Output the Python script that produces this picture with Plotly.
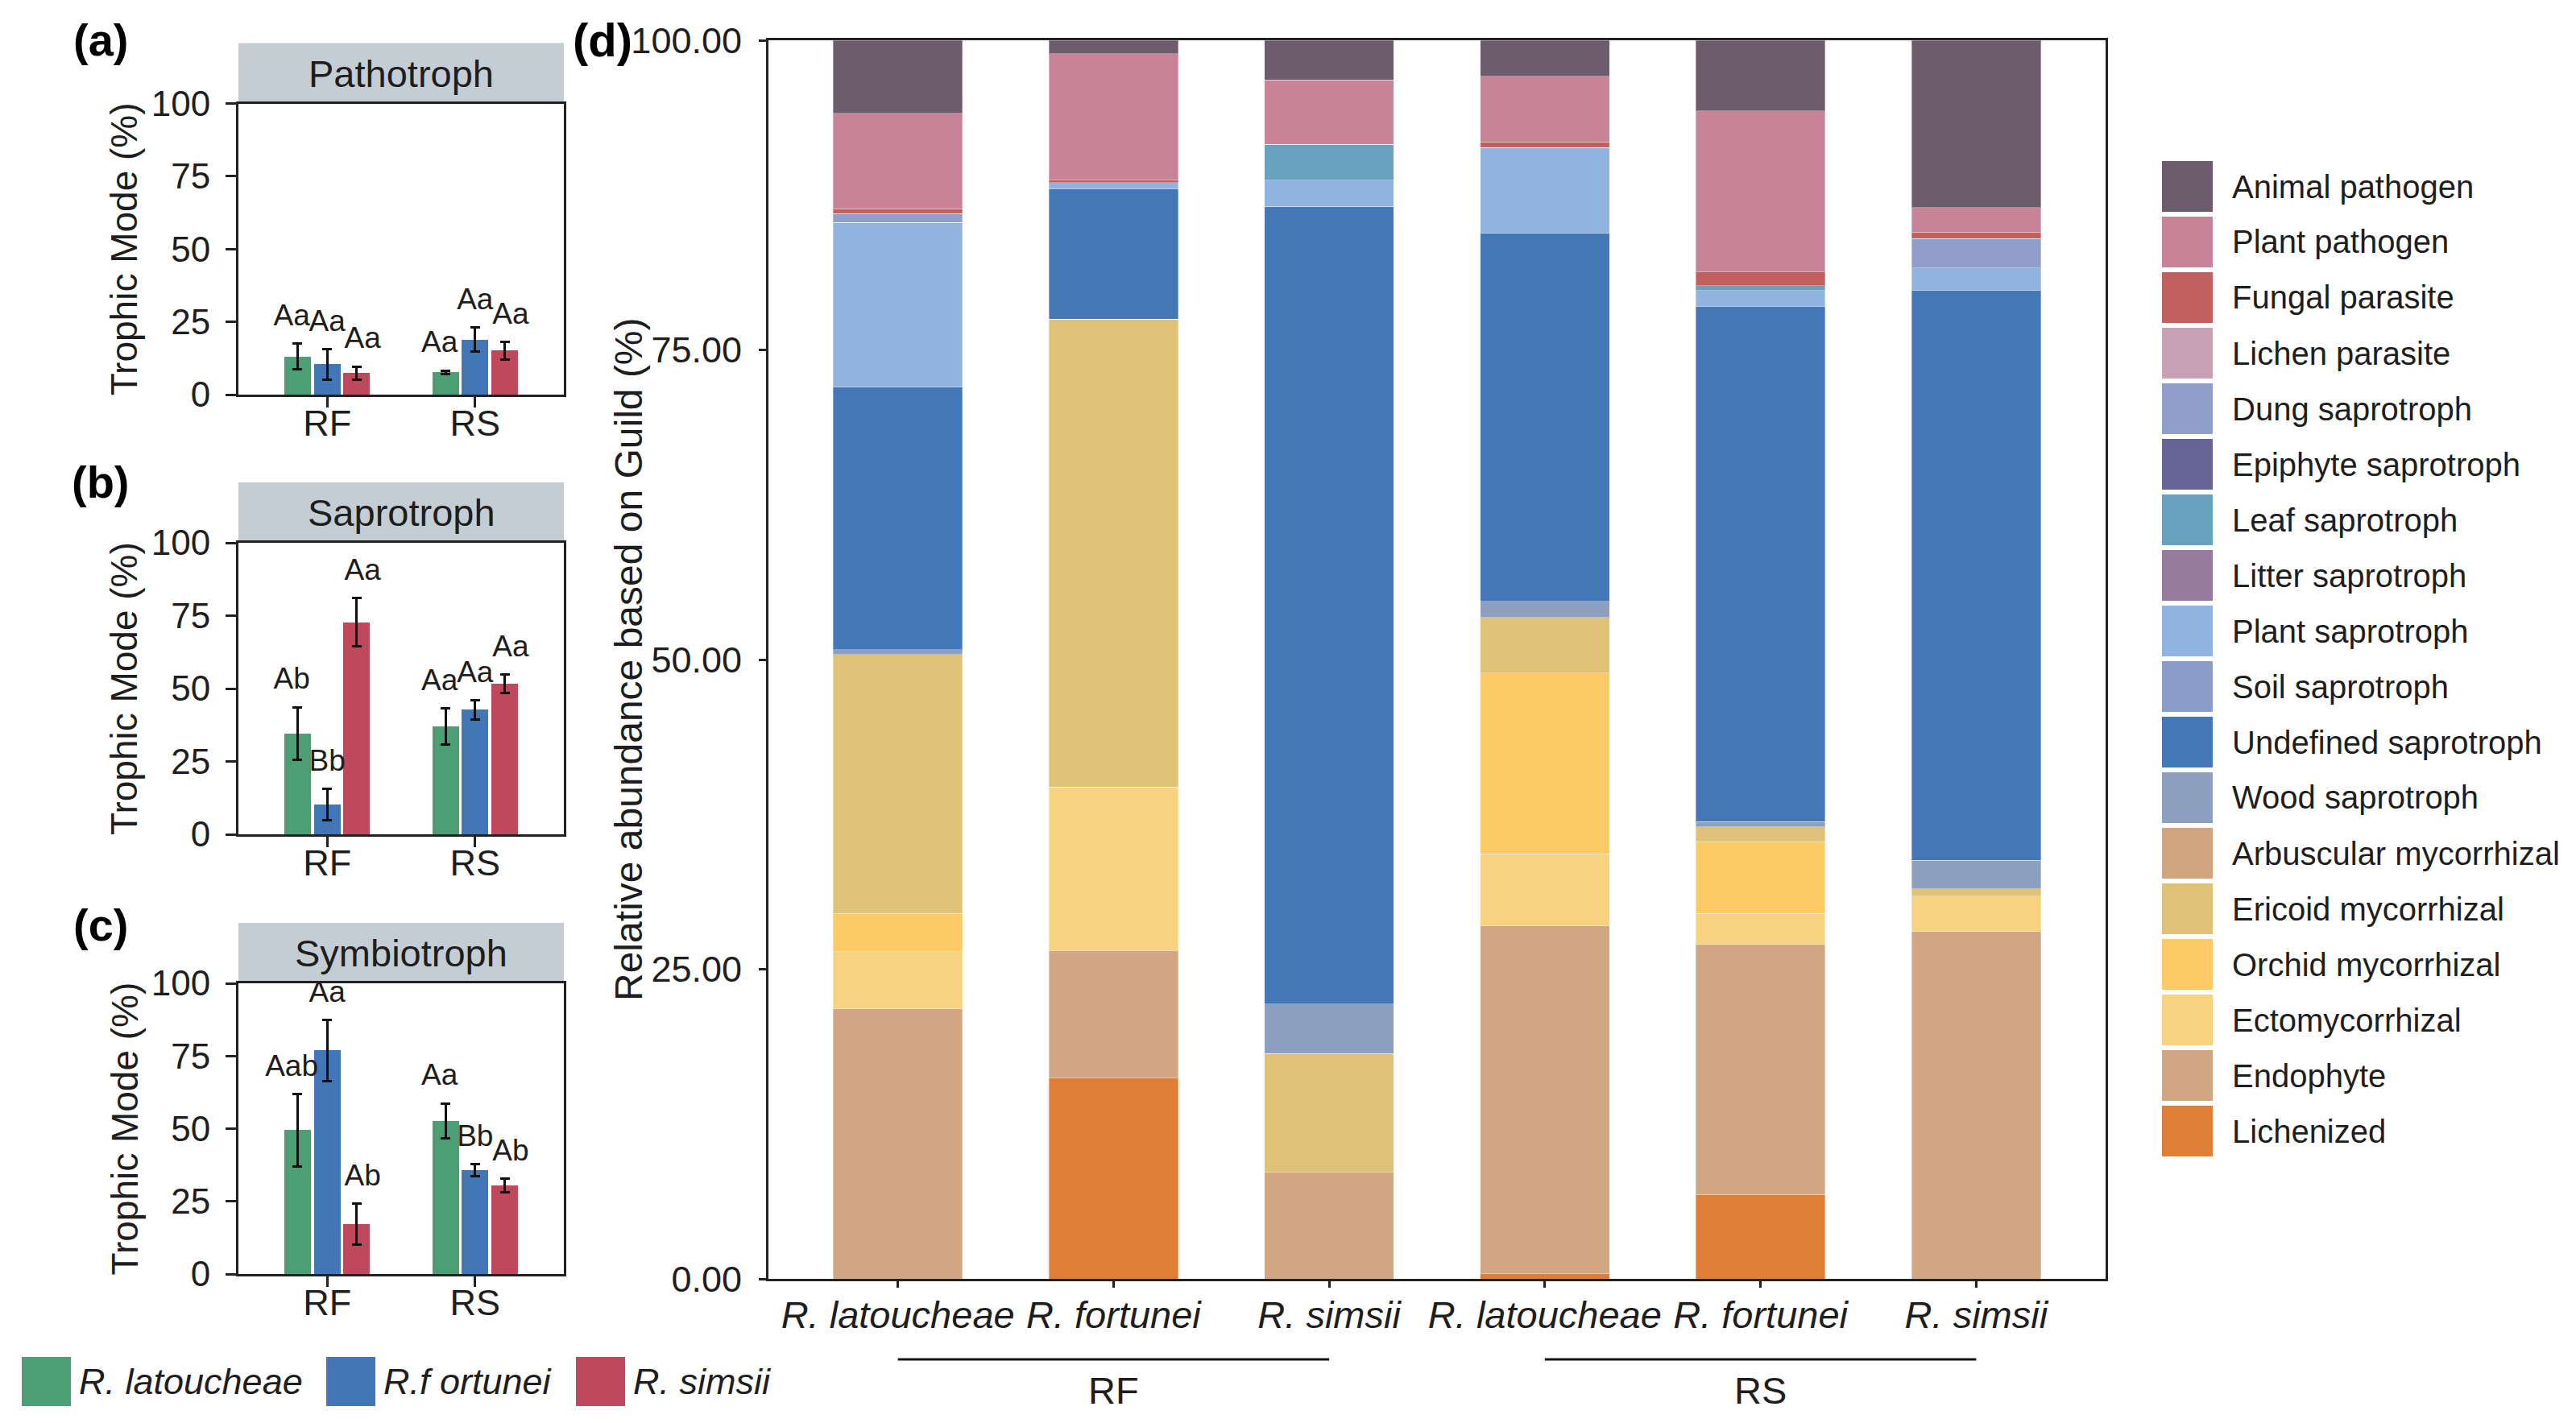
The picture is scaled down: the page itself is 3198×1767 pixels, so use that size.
import plotly.graph_objects as go

W, H = 3198, 1767

# ---------------- data: panels (a)-(c) ----------------
sites = ["RF", "RS"]
species = ["R. latoucheae", "R.f ortunei", "R. simsii"]
species_colors = ["#4c9e74", "#4277b7", "#be485c"]

# Pathotroph (%)  mean per site [RF, RS]
patho_lat = [13.1, 7.7]
patho_for = [10.4, 18.9]
patho_sim = [7.4, 15.1]
patho_lat_se = [4.4, 0.6]
patho_for_se = [5.2, 4.1]
patho_sim_se = [2.2, 3.0]
patho_lat_lab = ["Aa", "Aa"]
patho_for_lab = ["Aa", "Aa"]
patho_sim_lab = ["Aa", "Aa"]

# Saprotroph (%)
sapro_lat = [34.6, 37.0]
sapro_for = [10.2, 42.7]
sapro_sim = [72.7, 51.6]
sapro_lat_se = [9.0, 6.1]
sapro_for_se = [5.3, 3.2]
sapro_sim_se = [8.3, 3.1]
sapro_lat_lab = ["Ab", "Aa"]
sapro_for_lab = ["Bb", "Aa"]
sapro_sim_lab = ["Aa", "Aa"]

# Symbiotroph (%)
symbio_lat = [49.5, 52.7]
symbio_for = [76.9, 35.7]
symbio_sim = [17.1, 30.4]
symbio_lat_se = [12.4, 6.0]
symbio_for_se = [10.5, 2.1]
symbio_sim_se = [7.1, 2.3]
symbio_lat_lab = ["Aab", "Aa"]
symbio_for_lab = ["Aa", "Bb"]
symbio_sim_lab = ["Ab", "Ab"]

panel_titles = ["Pathotroph", "Saprotroph", "Symbiotroph"]
panel_tags = ["(a)", "(b)", "(c)"]
trophic_ticks = [0, 25, 50, 75, 100]

# ---------------- data: panel (d) ----------------
sample_species = ["R. latoucheae", "R. fortunei", "R. simsii",
                  "R. latoucheae", "R. fortunei", "R. simsii"]
sample_site = ["RF", "RF", "RF", "RS", "RS", "RS"]

guilds = ["Animal pathogen", "Plant pathogen", "Fungal parasite", "Lichen parasite",
          "Dung saprotroph", "Epiphyte saprotroph", "Leaf saprotroph", "Litter saprotroph",
          "Plant saprotroph", "Soil saprotroph", "Undefined saprotroph", "Wood saprotroph",
          "Arbuscular mycorrhizal", "Ericoid mycorrhizal", "Orchid mycorrhizal",
          "Ectomycorrhizal", "Endophyte", "Lichenized"]
guild_colors = ["#6d5c6e", "#c98398", "#c25f5f", "#c9a1b5",
                "#8f9fca", "#666596", "#67a2bf", "#977b9e",
                "#91b3df", "#8b9cca", "#4477b6", "#8ea0c1",
                "#cfa47e", "#dfc277", "#fdca65",
                "#f7d37f", "#d0a683", "#df7e37"]

animal_pathogen = [5.9, 1.1, 3.2, 2.9, 5.7, 13.5]
plant_pathogen = [7.7, 10.2, 5.2, 5.3, 13.0, 2.0]
fungal_parasite = [0.4, 0.2, 0.0, 0.45, 1.1, 0.5]
lichen_parasite = [0.0, 0.0, 0.0, 0.0, 0.0, 0.0]
dung_saprotroph = [0.7, 0.0, 0.0, 0.0, 0.0, 2.4]
epiphyte_saprotroph = [0.0, 0.0, 0.0, 0.0, 0.0, 0.0]
leaf_saprotroph = [0.0, 0.0, 2.9, 0.0, 0.4, 0.0]
litter_saprotroph = [0.0, 0.0, 0.0, 0.0, 0.0, 0.0]
plant_saprotroph = [13.3, 0.5, 2.1, 6.95, 1.3, 1.8]
soil_saprotroph = [0.0, 0.0, 0.0, 0.0, 0.0, 0.0]
undefined_saprotroph = [21.2, 10.5, 64.4, 29.7, 41.6, 46.0]
wood_saprotroph = [0.4, 0.0, 4.0, 1.3, 0.4, 2.3]
arbuscular_mycorrhizal = [0.0, 0.0, 0.0, 0.0, 0.0, 0.0]
ericoid_mycorrhizal = [20.9, 37.8, 9.6, 4.5, 1.2, 0.6]
orchid_mycorrhizal = [3.1, 0.0, 0.0, 14.6, 5.8, 0.0]
ectomycorrhizal = [4.6, 13.2, 0.0, 5.8, 2.5, 2.85]
endophyte = [21.8, 10.3, 8.6, 28.1, 20.2, 28.05]
lichenized = [0.0, 16.2, 0.0, 0.4, 6.8, 0.0]

guild_values = [animal_pathogen, plant_pathogen, fungal_parasite, lichen_parasite,
                dung_saprotroph, epiphyte_saprotroph, leaf_saprotroph, litter_saprotroph,
                plant_saprotroph, soil_saprotroph, undefined_saprotroph, wood_saprotroph,
                arbuscular_mycorrhizal, ericoid_mycorrhizal, orchid_mycorrhizal,
                ectomycorrhizal, endophyte, lichenized]
guild_ticks = [0, 25, 50, 75, 100]

# ---------------- layout helpers ----------------
FONT = "Liberation Sans, Arial, Helvetica, sans-serif"
INK = "#1e1e1e"
PAGE_OFF = 8                      # default body margin of the html page
FW, FH = W - 2 * PAGE_OFF, H - 2 * PAGE_OFF


def fx(px):
    return (px - PAGE_OFF) / FW


def fy(px):
    return 1 - (px - PAGE_OFF) / FH


panels = [
    ([patho_lat, patho_for, patho_sim], [patho_lat_se, patho_for_se, patho_sim_se],
     [patho_lat_lab, patho_for_lab, patho_sim_lab]),
    ([sapro_lat, sapro_for, sapro_sim], [sapro_lat_se, sapro_for_se, sapro_sim_se],
     [sapro_lat_lab, sapro_for_lab, sapro_sim_lab]),
    ([symbio_lat, symbio_for, symbio_sim], [symbio_lat_se, symbio_for_se, symbio_sim_se],
     [symbio_lat_lab, symbio_for_lab, symbio_sim_lab]),
]
panel_px_y = [(128.6, 490.0), (674.0, 1036.0), (1221.0, 1582.0)]
panel_tag_px_y = [49, 598, 1148]
panel_px_x = (296.0, 700.0)
axis_ids = [("x", "y"), ("x2", "y2"), ("x3", "y3")]
dodge = 0.6
bar_w = dodge / len(species) * 0.9
label_pad = 3.8
label_spread = 1.2

fig = go.Figure()

for p, (means, ses, labs) in enumerate(panels):
    xa, ya = axis_ids[p]
    for s in range(len(species)):
        off = -dodge / 2 + dodge / len(species) * (s + 0.5)
        xs = [i + off for i in range(len(sites))]
        fig.add_trace(go.Bar(
            x=xs, y=means[s], width=bar_w, xaxis=xa, yaxis=ya,
            marker=dict(color=species_colors[s], line=dict(width=0)),
            error_y=dict(type="data", array=ses[s], color="#111111", thickness=3, width=6),
            showlegend=False, name=species[s]))
        fig.add_trace(go.Scatter(
            x=[i + off * label_spread for i in range(len(sites))],
            y=[m + e + label_pad for m, e in zip(means[s], ses[s])],
            mode="text", text=labs[s], textposition="top center",
            textfont=dict(family=FONT, size=37, color=INK),
            xaxis=xa, yaxis=ya, showlegend=False, cliponaxis=False, hoverinfo="skip"))

# panel (d) stacked bars, bottom layer first
for g in reversed(range(len(guilds))):
    fig.add_trace(go.Bar(
        x=list(range(len(sample_species))), y=guild_values[g], width=0.6,
        xaxis="x4", yaxis="y4", name=guilds[g],
        marker=dict(color=guild_colors[g], line=dict(width=1, color="rgba(255,255,255,0.35)")),
        showlegend=False))


def box_axis(**kw):
    d = dict(showline=True, linecolor="#222222", linewidth=3, mirror=True,
             ticks="outside", tickwidth=3, tickcolor="#222222", automargin=False,
             showgrid=False, zeroline=False, fixedrange=True)
    d.update(kw)
    return d


layout = dict(
    template="none",
    width=FW, height=FH, margin=dict(l=0, r=0, t=0, b=0, pad=0, autoexpand=False),
    paper_bgcolor="white", plot_bgcolor="white", barmode="stack",
    font=dict(family=FONT, color=INK), showlegend=False,
)
for p in range(3):
    sfx = "" if p == 0 else str(p + 1)
    top, bot = panel_px_y[p]
    layout["xaxis" + sfx] = box_axis(
        domain=[fx(panel_px_x[0]), fx(panel_px_x[1])], range=[-0.6, len(sites) - 0.4],
        tickvals=list(range(len(sites))), ticktext=sites, ticklen=13,
        tickfont=dict(size=45, color=INK), anchor="y" + sfx, ticklabelstandoff=-19, tickangle=0)
    layout["yaxis" + sfx] = box_axis(
        domain=[fy(bot), fy(top)], range=[0, 100], tickvals=trophic_ticks, ticklen=13,
        tickfont=dict(size=44, color=INK), anchor="x" + sfx, ticklabelstandoff=10)

layout["xaxis4"] = box_axis(
    domain=[fx(954), fx(2614)], range=[-0.6, len(sample_species) - 0.4],
    tickvals=list(range(len(sample_species))),
    ticktext=["<i>%s</i>" % s for s in sample_species], ticklen=8, tickangle=0,
    tickfont=dict(size=47, color=INK), anchor="y4", ticklabelstandoff=-6)
layout["yaxis4"] = box_axis(
    domain=[fy(1588), fy(50)], range=[0, 100], tickvals=guild_ticks, tickformat=".2f",
    ticklen=9, tickfont=dict(size=45, color=INK), anchor="x4", ticklabelstandoff=12)

fig.update_layout(**layout)

shapes = []
annotations = []

# strips, titles, tags for (a)-(c)
strip_h = 75.0
for p in range(3):
    sfx = "" if p == 0 else str(p + 1)
    top, bot = panel_px_y[p]
    ph = bot - top
    shapes.append(dict(type="rect", xref="x%s domain" % sfx, yref="y%s domain" % sfx,
                       x0=0, x1=1, y0=1, y1=1 + strip_h / ph,
                       fillcolor="#c4cdd4", line=dict(width=0), layer="below"))
    annotations.append(dict(xref="x%s domain" % sfx, yref="y%s domain" % sfx,
                            x=0.5, y=1 + strip_h / 2 / ph, text=panel_titles[p],
                            showarrow=False, font=dict(size=47, color=INK),
                            xanchor="center", yanchor="middle"))
    annotations.append(dict(xref="paper", yref="y%s domain" % sfx, x=fx(154), y=0.5,
                            text="Trophic Mode (%)", textangle=-90, showarrow=False,
                            font=dict(size=46, color=INK), xanchor="center", yanchor="middle"))
    annotations.append(dict(xref="paper", yref="paper", x=fx(125), y=fy(panel_tag_px_y[p]),
                            text="<b>%s</b>" % panel_tags[p], showarrow=False,
                            font=dict(size=56, color="#000000"),
                            xanchor="center", yanchor="middle"))

# panel (d) tag and y title
annotations.append(dict(xref="paper", yref="paper", x=fx(787), y=fy(49), text="<b>(d)</b>",
                        showarrow=False, font=dict(size=58, color="#000000"),
                        xanchor="right", yanchor="middle"))
annotations.append(dict(xref="paper", yref="y4 domain", x=fx(780), y=0.5,
                        text="Relative abundance based on Guild (%)", textangle=-90,
                        showarrow=False, font=dict(size=48, color=INK),
                        xanchor="center", yanchor="middle"))

# site brackets under panel (d)
for site in sites:
    idx = [i for i, s in enumerate(sample_site) if s == site]
    shapes.append(dict(type="line", xref="x4", yref="paper", x0=idx[0], x1=idx[-1],
                       y0=fy(1688), y1=fy(1688), line=dict(color="#111111", width=3)))
    annotations.append(dict(xref="x4", yref="paper", x=(idx[0] + idx[-1]) / 2, y=fy(1726),
                            text=site, showarrow=False, font=dict(size=47, color=INK),
                            xanchor="center", yanchor="middle"))

# guild legend (right)
leg_x0, leg_key, leg_step, leg_top = 2684, 63, 69.0, 200
for g, name in enumerate(guilds):
    t = leg_top + g * leg_step
    shapes.append(dict(type="rect", xref="paper", yref="paper",
                       x0=fx(leg_x0), x1=fx(leg_x0 + leg_key), y0=fy(t + leg_key), y1=fy(t),
                       fillcolor=guild_colors[g], line=dict(width=0)))
    annotations.append(dict(xref="paper", yref="paper", x=fx(leg_x0 + leg_key + 22),
                            y=fy(t + leg_key / 2), text=name, showarrow=False,
                            font=dict(size=40, color=INK), xanchor="left", yanchor="middle"))

# species legend (bottom left)
sp_key_x = [27, 405, 715]
sp_top, sp_key = 1685, 61
for s, name in enumerate(species):
    shapes.append(dict(type="rect", xref="paper", yref="paper",
                       x0=fx(sp_key_x[s]), x1=fx(sp_key_x[s] + sp_key),
                       y0=fy(sp_top + sp_key), y1=fy(sp_top),
                       fillcolor=species_colors[s], line=dict(width=0)))
    annotations.append(dict(xref="paper", yref="paper", x=fx(sp_key_x[s] + sp_key + 8),
                            y=fy(sp_top + sp_key / 2), text="<i>%s</i>" % name,
                            showarrow=False, font=dict(size=45, color=INK),
                            xanchor="left", yanchor="middle"))

fig.update_layout(shapes=shapes, annotations=annotations)
fig.write_html("out.html")
